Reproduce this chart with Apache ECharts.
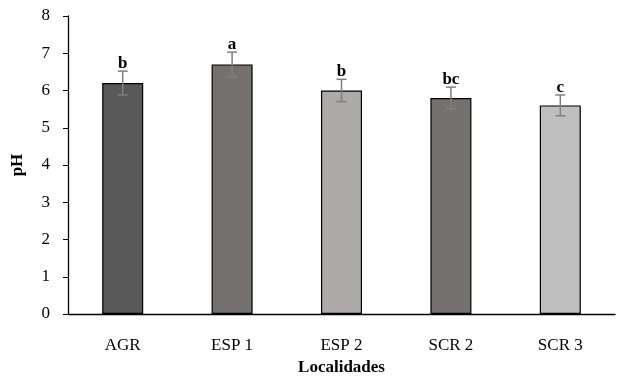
<!DOCTYPE html>
<html>
<head>
<meta charset="utf-8">
<script src="https://cdn.jsdelivr.net/npm/echarts@6/dist/echarts.min.js"></script>
<style>
  html, body { margin: 0; padding: 0; background: #fff; }
  #container { width: 618px; height: 381px; }
</style>
</head>
<body>
<div id="container"></div>
<script>
// 数据
var categories = ['AGR', 'ESP 1', 'ESP 2', 'SCR 2', 'SCR 3'];
var phValues = [6.2, 6.7, 6.0, 5.8, 5.6];
var phErrors = [0.32, 0.33, 0.3, 0.29, 0.28];
var letters = ['b', 'a', 'b', 'bc', 'c'];
var barColors = ['#595959', '#767171', '#aeaaaa', '#767171', '#bfbfbf'];
var yTicks = [0, 8, 1]; // min, max, interval

var fontFam = '"Liberation Serif", "DejaVu Serif", serif';

var dom = document.getElementById('container');
var myChart = echarts.init(dom);

// 误差线数据
var errData = [];
for (var i = 0; i < categories.length; i++) {
  errData.push([i, phValues[i], phErrors[i], letters[i]]);
}

function renderErr(params, api) {
  var x = api.value(0);
  var v = api.value(1);
  var e = api.value(2);
  var top = api.coord([x, v + e]);
  var bot = api.coord([x, v - e]);
  var half = 5;
  var st = { stroke: '#7f7f7f', lineWidth: 1.5 };
  return {
    type: 'group',
    children: [
      { type: 'line', shape: { x1: top[0], y1: top[1], x2: bot[0], y2: bot[1] }, style: st },
      { type: 'line', shape: { x1: top[0] - half, y1: top[1], x2: top[0] + half, y2: top[1] }, style: st },
      { type: 'line', shape: { x1: bot[0] - half, y1: bot[1], x2: bot[0] + half, y2: bot[1] }, style: st },
      {
        type: 'text',
        style: {
          x: top[0], y: top[1] + 1,
          text: api.value(3),
          align: 'center', verticalAlign: 'bottom',
          font: 'bold 17px ' + fontFam,
          fill: '#000'
        }
      }
    ]
  };
}

var option = {
  backgroundColor: '#fff',
  animation: false,
  grid: { left: 68, right: 3, top: 16, bottom: 63 },
  xAxis: {
    type: 'category',
    data: categories,
    name: 'Localidades',
    nameLocation: 'middle',
    nameGap: 45,
    nameTextStyle: { fontFamily: fontFam, fontSize: 17, fontWeight: 'bold', color: '#000' },
    axisLine: { lineStyle: { color: '#000', width: 1.3 } },
    axisTick: { show: false },
    axisLabel: { fontFamily: fontFam, fontSize: 17, color: '#000', margin: 23 }
  },
  yAxis: {
    type: 'value',
    min: yTicks[0],
    max: yTicks[1],
    interval: yTicks[2],
    name: 'pH',
    nameLocation: 'middle',
    nameGap: 42,
    nameTextStyle: { fontFamily: fontFam, fontSize: 17, fontWeight: 'bold', color: '#000' },
    axisLine: { show: true, lineStyle: { color: '#000', width: 1.3 } },
    axisTick: { show: true, length: 5, lineStyle: { color: '#000' } },
    axisLabel: { fontFamily: fontFam, fontSize: 17, color: '#000', margin: 18 },
    splitLine: { show: false }
  },
  series: [
    {
      type: 'bar',
      data: phValues.map(function (v, i) {
        return { value: v, itemStyle: { color: barColors[i] } };
      }),
      barWidth: '37.5%',
      itemStyle: { borderColor: '#000', borderWidth: 1.2 }
    },
    {
      type: 'custom',
      renderItem: renderErr,
      data: errData,
      z: 10
    }
  ]
};
myChart.setOption(option);
</script>
</body>
</html>
